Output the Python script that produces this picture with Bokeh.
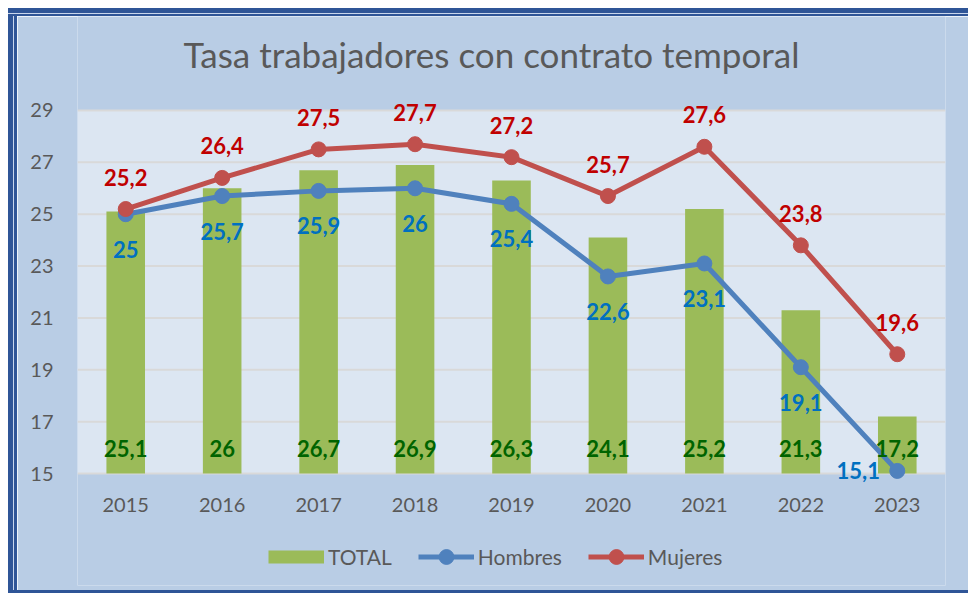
from bokeh.plotting import figure
from bokeh.layouts import column, row
from bokeh.models import (ColumnDataSource, Range1d, FixedTicker, Legend, LegendItem,
                          BoxAnnotation, LabelSet, Span, Div)
from bokeh.core.properties import value
from bokeh.embed import file_html
from bokeh.resources import INLINE

years = ["2015", "2016", "2017", "2018", "2019", "2020", "2021", "2022", "2023"]
total = [25.1, 26, 26.7, 26.9, 26.3, 24.1, 25.2, 21.3, 17.2]
hombres = [25, 25.7, 25.9, 26, 25.4, 22.6, 23.1, 19.1, 15.1]
mujeres = [25.2, 26.4, 27.5, 27.7, 27.2, 25.7, 27.6, 23.8, 19.6]
y_ticks = [15, 17, 19, 21, 23, 25, 27, 29]
y_min, y_max = 15, 29
title_text = "Tasa trabajadores con contrato temporal"

FONT = "Lato"
GREEN = "#9bbb59"
BLUE = "#4f81bd"
RED = "#c0504d"
OUTER = "#b9cde5"
INNER = "#dce6f2"
DARK = "#2f5597"
GAP = "#c9d6ec"
TXT = "#595959"
GRID = "#d9d9d9"


def fmt(v):
    return f"{v:g}".replace(".", ",")


src = ColumnDataSource(dict(
    x=years,
    total=total,
    hombres=hombres,
    mujeres=mujeres,
    base=[y_min] * len(years),
    total_lbl=[fmt(v) for v in total],
    hombres_lbl=[fmt(v) for v in hombres],
    mujeres_lbl=[fmt(v) for v in mujeres],
    h_dx=[0, 0, 0, 0, 0, 0, 0, 0, -39],
    h_dy=[-35, -35, -35, -35, -35, -35, -35, -35, 0],
))
title_src = ColumnDataSource(dict(x=[years[len(years) // 2]], y=[y_max], t=[title_text]))

# the frame spans the whole canvas height so that the title, the labels above the
# top gridline, the year labels and the legend all live inside it
p = figure(width=951, height=574, x_range=years,
           y_range=Range1d(y_min - 4.319, y_max + 3.625),
           output_backend="svg", toolbar_location=None, x_axis_location=None,
           min_border_left=60, min_border_right=23, min_border_top=0,
           min_border_bottom=5)

p.background_fill_color = OUTER
p.border_fill_color = OUTER
p.outline_line_color = None

# plot area and its gridlines
p.add_layout(BoxAnnotation(bottom=y_min, top=y_max, fill_color=INNER, fill_alpha=1,
                           line_color=None, level="underlay"))
for t in y_ticks:
    p.add_layout(Span(location=t, dimension="width", line_color=GRID, line_width=2,
                      level="underlay"))
p.xgrid.grid_line_color = None
p.ygrid.grid_line_color = None

bars = p.vbar(x="x", top="total", bottom=y_min, width=0.4, source=src,
              fill_color=GREEN, line_color=None)
hl = p.line(x="x", y="hombres", source=src, line_color=BLUE, line_width=5)
hs = p.scatter(x="x", y="hombres", source=src, size=15, fill_color=BLUE, line_color=BLUE)
ml = p.line(x="x", y="mujeres", source=src, line_color=RED, line_width=5)
ms = p.scatter(x="x", y="mujeres", source=src, size=15, fill_color=RED, line_color=RED)
# legend swatch for the bars (hidden in the plot)
tot_key = p.line(x="x", y="total", source=src, line_color=GREEN, line_width=13,
                 line_cap="butt", visible=False)

common = dict(source=src, text_font=value(FONT), text_font_size=value("22px"),
              text_font_style=value("bold"), text_align=value("center"),
              text_baseline=value("middle"))
p.add_layout(LabelSet(x="x", y="base", text="total_lbl", y_offset=25,
                      text_color=value("#006400"), **common))
p.add_layout(LabelSet(x="x", y="hombres", text="hombres_lbl", x_offset="h_dx", y_offset="h_dy",
                      text_color=value("#0070c0"), **common))
p.add_layout(LabelSet(x="x", y="mujeres", text="mujeres_lbl", y_offset=32,
                      text_color=value("#c00000"), **common))
# category (year) labels under the baseline
p.add_layout(LabelSet(x="x", y="base", text="x", y_offset=-31, source=src,
                      text_font=value(FONT), text_font_size=value("20px"),
                      text_color=value(TXT), text_align=value("center"),
                      text_baseline=value("middle")))

# chart title
p.add_layout(LabelSet(x="x", y="y", text="t", source=title_src, x_offset=-20, y_offset=56,
                      text_font=value(FONT), text_font_size=value("35px"),
                      text_color=value(TXT), text_align=value("center"),
                      text_baseline=value("middle")))

p.yaxis.ticker = FixedTicker(ticks=y_ticks)
p.yaxis.major_tick_line_color = None
p.yaxis.minor_tick_line_color = None
p.yaxis.axis_line_color = None
p.yaxis.major_label_text_font = FONT
p.yaxis.major_label_text_font_size = "20px"
p.yaxis.major_label_text_color = TXT
p.yaxis.major_label_standoff = 18

legend = Legend(items=[
    LegendItem(label="TOTAL", renderers=[tot_key]),
    LegendItem(label="Hombres", renderers=[hl, hs]),
    LegendItem(label="Mujeres", renderers=[ml, ms]),
], orientation="horizontal", location=(191, 10))
legend.background_fill_alpha = 0
legend.border_line_color = None
legend.inactive_fill_alpha = 0
legend.label_text_font = FONT
legend.label_text_font_size = "21px"
legend.label_text_color = TXT
legend.glyph_width = 56
legend.glyph_height = 37
legend.spacing = 26
legend.label_standoff = 4
legend.padding = 0
legend.margin = 0
p.add_layout(legend, "center")

# double-line frame of the chart box
top_bg = (f"linear-gradient(to right, white 0 8px, transparent 8px), "
          f"linear-gradient(to bottom, white 0 8px, {DARK} 8px 13px, {GAP} 13px 14px, "
          f"{DARK} 14px 16px)")
left_bg = (f"linear-gradient(to right, white 0 8px, {DARK} 8px 13px, {GAP} 13px 14px, "
           f"{DARK} 14px 17px)")
bottom_bg = f"linear-gradient(to right, white 0 8px, {DARK} 8px)"
top_div = Div(text="", width=968, height=16, margin=0,
              styles={"background": top_bg})
left_div = Div(text="", width=17, height=574, margin=0,
               styles={"background": left_bg})
bottom_div = Div(text="", width=968, height=3, margin=0,
                 styles={"background": bottom_bg})

layout = column(top_div, row(left_div, p, spacing=0), bottom_div, spacing=0)

open("out.html", "w").write(file_html(layout, INLINE))
